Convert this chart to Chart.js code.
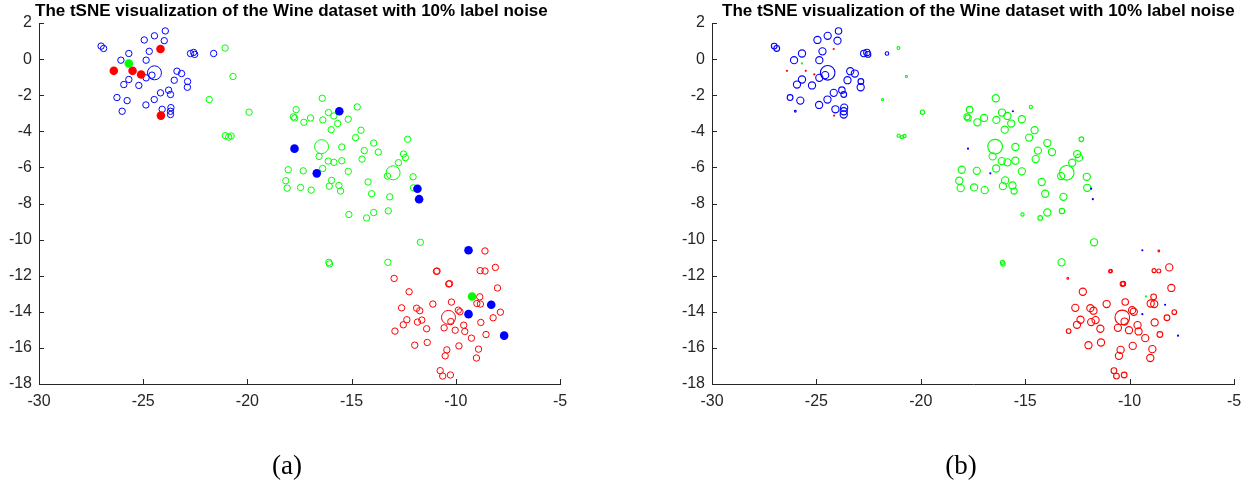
<!DOCTYPE html>
<html>
<head>
<meta charset="utf-8">
<script src="https://cdn.jsdelivr.net/npm/chart.js@4.4.1/dist/chart.umd.min.js"></script>
<style>
  html,body{margin:0;padding:0;background:#fff;overflow:hidden;}
  #wrap{position:relative;width:1252px;height:485px;background:#fff;}
  canvas{position:absolute;top:0;}
  .title{position:absolute;top:1px;font-family:"Liberation Sans",Arial,Helvetica,sans-serif;font-weight:bold;font-size:17px;line-height:20px;color:#000;white-space:nowrap;}
  .cap{position:absolute;top:447px;font-family:"Liberation Serif","DejaVu Serif",serif;font-size:27px;line-height:36px;color:#000;transform:translateX(-50%);white-space:nowrap;}
</style>
</head>
<body>
<div id="wrap">
  <canvas id="ca" width="640" height="485" style="left:0px"></canvas>
  <canvas id="cb" width="612" height="485" style="left:640px"></canvas>
  <div class="title" style="left:35px">The tSNE visualization of the Wine dataset with 10% label noise</div>
  <div class="title" style="left:722px">The tSNE visualization of the Wine dataset with 10% label noise</div>
  <div class="cap" style="left:287px">(a)</div>
  <div class="cap" style="left:961px">(b)</div>
</div>
<script>
// ---------- data ----------
const xTicks = [-30, -25, -20, -15, -10, -5];
const yTicks = [2, 0, -2, -4, -6, -8, -10, -12, -14, -16, -18];

// class 1 (blue) samples with correct labels; weight = relative marker size in panel (b)
const blueX = [-27.02,-26.90,-23.94,-24.46,-24.95,-23.99,-24.71,-25.69,-22.73,-22.58,-22.53,-21.62,-26.07,-24.86,-24.58,-24.86,-23.38,-23.16,-25.69,-23.51,-22.87,-22.88,-25.93,-25.21,-23.78,-23.69,-24.17,-26.26,-25.77,-24.47,-24.87,-26.01,-24.09,-23.67,-23.69,-23.69];
const blueY = [0.72,0.59,1.56,1.29,1.06,1.02,0.43,0.31,0.31,0.37,0.26,0.31,-0.06,-0.06,-0.89,-1.04,-0.67,-0.80,-1.13,-1.17,-1.24,-1.56,-1.41,-1.46,-1.72,-1.96,-1.87,-2.13,-2.30,-2.24,-2.54,-2.89,-2.78,-2.69,-2.89,-3.07];
const blueW = [0.8,0.8,0.9,1,1,1,1,1,0.9,0.9,0.8,0.5,1,1,1,1,1,1,1,1,0.8,1,1,1,0.9,0.8,1,0.8,1,1,1,0.25,1,1,1,1];

// class 2 (green)
const greenX = [-21.07,-20.69,-21.83,-19.92,-21.06,-20.90,-20.78,-16.41,-17.66,-17.79,-17.73,-17.29,-16.97,-16.38,-16.11,-15.85,-14.73,-15.16,-15.67,-15.98,-14.55,-14.81,-13.94,-12.31,-15.47,-14.39,-13.72,-16.56,-16.12,-15.85,-15.47,-14.50,-12.51,-12.42,-12.75,-13.28,-16.39,-17.32,-18.04,-15.16,-18.16,-18.09,-17.45,-16.94,-15.96,-16.07,-15.61,-15.53,-14.21,-14.04,-13.17,-12.05,-12.03,-15.13,-14.28,-13.94,-13.24,-11.70,-16.09,-16.06,-13.26];
const greenY = [0.61,-0.96,-2.24,-2.94,-4.24,-4.32,-4.26,-2.17,-2.80,-3.20,-3.26,-3.50,-3.26,-3.37,-2.96,-3.15,-2.65,-3.33,-3.57,-3.91,-3.94,-4.35,-4.65,-4.44,-4.87,-5.07,-5.15,-5.39,-5.65,-5.72,-5.63,-5.54,-5.26,-5.46,-5.74,-6.48,-6.06,-6.19,-6.13,-6.22,-6.74,-7.15,-7.11,-7.26,-6.72,-7.04,-7.00,-7.31,-6.81,-7.46,-7.63,-6.52,-7.13,-8.61,-8.80,-8.50,-8.41,-10.15,-11.26,-11.35,-11.26];
const greenW = [0.4,0.3,0.3,0.6,0.45,0.45,0.45,1,0.9,0.85,0.85,1,1,1,1,1,0.45,1,1,1,1,1,1,0.65,1,1,1,1,1,1,1,1,1,1,1,1,1,1,1,1,1,1,1,1,1,1,1,0.85,1,1,1,1,1,0.45,0.65,1,0.75,1,0.6,0.6,1];

// class 3 (red)
const redX = [-8.60,-10.93,-10.90,-8.83,-8.60,-8.10,-12.96,-10.34,-10.30,-12.24,-8.00,-8.85,-8.99,-8.82,-12.60,-11.88,-11.73,-11.10,-10.21,-9.88,-9.80,-10.24,-7.86,-8.21,-8.80,-12.35,-12.52,-11.63,-11.84,-11.40,-12.92,-10.56,-10.03,-9.62,-9.57,-8.55,-9.25,-11.97,-11.37,-9.85,-10.43,-10.51,-8.91,-9.01,-10.75,-10.63,-10.26];
const redY = [-10.63,-11.76,-11.74,-11.72,-11.74,-11.54,-12.15,-12.46,-12.44,-12.89,-12.68,-13.17,-13.54,-13.57,-13.78,-13.80,-13.94,-13.57,-13.46,-13.91,-14.00,-14.54,-14.02,-14.33,-14.59,-14.44,-14.72,-14.46,-14.57,-14.94,-15.07,-14.89,-15.02,-14.74,-15.09,-15.26,-15.46,-15.85,-15.70,-15.89,-16.11,-16.44,-16.07,-16.56,-17.26,-17.56,-17.50];
const redW = [0.25,0.45,0.45,0.55,0.55,1,0.25,0.65,0.65,1,1,0.8,1,1,1,1,1,1,0.9,1,1,1,0.65,0.8,1,1,1,1,1,1,0.65,1,1,1,1,0.8,1,1,1,1,1,1,1,1,0.8,0.8,0.8];

// samples whose label was flipped (noisy label: 1 blue, 2 green, 3 red)
const noiseX = [-24.17,-26.41,-25.51,-25.10,-24.15,-25.69,-15.59,-17.74,-16.67,-11.84,-11.76,-9.39,-8.30,-9.39,-7.68,-9.22];
const noiseY = [0.56,-0.65,-0.65,-0.85,-3.13,-0.24,-2.89,-4.96,-6.33,-7.18,-7.76,-10.59,-13.61,-14.13,-15.32,-13.15];
const noiseLabel = [3,3,3,3,3,2,1,1,1,1,1,1,1,1,1,2];

// large circles (class prototypes)
const centerX = [-24.46,-16.44,-13.01,-10.35];
const centerY = [-0.76,-4.85,-6.30,-14.31];
const centerLabel = [1,2,2,3];

// ---------- rendering ----------
const COLORS = {1:'#0000ff', 2:'#00ff00', 3:'#ff0000'};
const AXIS = '#262626';
const FONT = '"Liberation Sans", Arial, Helvetica, sans-serif';

const pts = (xs, ys) => xs.map((x, i) => ({x, y: ys[i]}));

const innerTicks = {
  id: 'innerTicks',
  afterDraw(chart) {
    const {ctx, chartArea: a, scales: {x, y}} = chart;
    ctx.save();
    ctx.strokeStyle = AXIS;
    ctx.lineWidth = 1;
    ctx.beginPath();
    x.ticks.forEach(t => {
      const px = Math.round(x.getPixelForValue(t.value)) + 0.5;
      ctx.moveTo(px, a.bottom); ctx.lineTo(px, a.bottom - 5);
    });
    y.ticks.forEach(t => {
      const py = Math.round(y.getPixelForValue(t.value)) + 0.5;
      ctx.moveTo(a.left, py); ctx.lineTo(a.left + 5, py);
    });
    ctx.stroke();
    ctx.restore();
  }
};

function scales(yWidth) {
  return {
    x: {
      type: 'linear', min: -30, max: -5,
      afterBuildTicks: s => { s.ticks = xTicks.map(v => ({value: v})); },
      afterFit: s => { s.height = 101; },
      grid: {display: false, drawTicks: false},
      border: {display: true, color: AXIS, width: 1},
      ticks: {color: AXIS, font: {family: FONT, size: 16}, padding: 8, maxRotation: 0, autoSkip: false}
    },
    y: {
      type: 'linear', min: -18, max: 2,
      afterBuildTicks: s => { s.ticks = yTicks.map(v => ({value: v})); },
      afterFit: s => { s.width = yWidth; },
      grid: {display: false, drawTicks: false},
      border: {display: true, color: AXIS, width: 1},
      ticks: {color: AXIS, font: {family: FONT, size: 16}, padding: 7, autoSkip: false}
    }
  };
}

function baseOptions(yWidth, padRight) {
  return {
    responsive: false, animation: false, devicePixelRatio: 1, events: [],
    layout: {padding: {left: 0, right: padRight, top: 23, bottom: 0}},
    plugins: {legend: {display: false}, tooltip: {enabled: false}, title: {display: false}},
    scales: scales(yWidth)
  };
}

function hollow(xs, ys, color, radius, bw) {
  return {
    data: pts(xs, ys), pointRadius: radius, pointBorderColor: color,
    pointBackgroundColor: 'rgba(0,0,0,0)', pointBorderWidth: bw, showLine: false
  };
}

// Panel (a): noisy samples filled, others hollow
new Chart(document.getElementById('ca'), {
  type: 'scatter',
  data: {datasets: [
    {data: pts(noiseX, noiseY), pointRadius: 4.3, pointBorderWidth: 0,
     pointBackgroundColor: noiseLabel.map(l => COLORS[l]), pointBorderColor: noiseLabel.map(l => COLORS[l])},
    {data: pts(centerX, centerY), pointRadius: 7, pointBorderWidth: 1,
     pointBorderColor: centerLabel.map(l => COLORS[l]), pointBackgroundColor: 'rgba(0,0,0,0)'},
    hollow(blueX, blueY, COLORS[1], 3.2, 1),
    hollow(greenX, greenY, COLORS[2], 3.2, 1),
    hollow(redX, redY, COLORS[3], 3.2, 1)
  ]},
  options: baseOptions(39, 80),
  plugins: [innerTicks]
});

// Panel (b): marker size follows the sample weight
const R = 3.6;
new Chart(document.getElementById('cb'), {
  type: 'scatter',
  data: {datasets: [
    {data: pts(noiseX, noiseY), pointRadius: 1.1, pointBorderWidth: 0,
     pointBackgroundColor: noiseLabel.map(l => COLORS[l]), pointBorderColor: noiseLabel.map(l => COLORS[l])},
    {data: pts(centerX, centerY), pointRadius: 7.3, pointBorderWidth: 1.1,
     pointBorderColor: centerLabel.map(l => COLORS[l]), pointBackgroundColor: 'rgba(0,0,0,0)'},
    hollow(blueX, blueY, COLORS[1], blueW.map(w => w * R), 1.1),
    hollow(greenX, greenY, COLORS[2], greenW.map(w => w * R), 1.1),
    hollow(redX, redY, COLORS[3], redW.map(w => w * R), 1.1)
  ]},
  options: baseOptions(72, 18),
  plugins: [innerTicks]
});
</script>
</body>
</html>
